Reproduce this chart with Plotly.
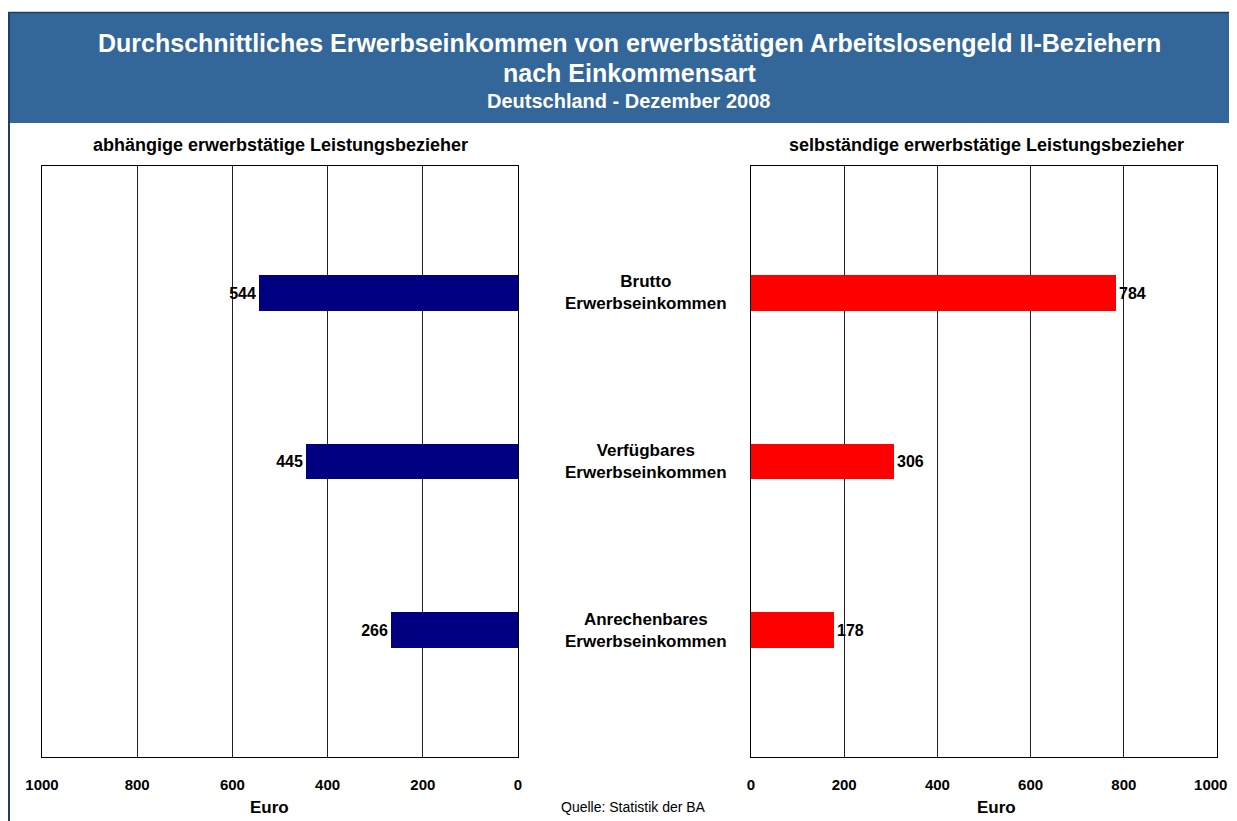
import plotly.graph_objects as go

categories = ["Brutto<br>Erwerbseinkommen", "Verfügbares<br>Erwerbseinkommen", "Anrechenbares<br>Erwerbseinkommen"]
abhaengig = [544, 445, 266]
selbstaendig = [784, 306, 178]
tick_vals = [0, 200, 400, 600, 800, 1000]
ypos = [0, 1, 2]

W, H = 1237, 821
OFF = 8  # page body margin offset
def px(x): return (x - OFF) / W
def py(y): return 1 - (y - OFF) / H

FONT = "Liberation Sans, Arial, sans-serif"

fig = go.Figure()
fig.add_trace(go.Bar(
    x=abhaengig, y=ypos, orientation="h", width=0.213,
    marker=dict(color="#000080", line=dict(width=0)),
    texttemplate="<b>%{x}</b>", textposition="outside",
    textfont=dict(family=FONT, size=16, color="black"),
    xaxis="x", yaxis="y", cliponaxis=False, showlegend=False, hoverinfo="skip"))
fig.add_trace(go.Bar(
    x=selbstaendig, y=ypos, orientation="h", width=0.213,
    marker=dict(color="#FF0000", line=dict(width=0)),
    texttemplate="<b>%{x}</b>", textposition="outside",
    textfont=dict(family=FONT, size=16, color="black"),
    xaxis="x2", yaxis="y2", cliponaxis=False, showlegend=False, hoverinfo="skip"))

axis_common = dict(
    tickvals=tick_vals,
    tickfont=dict(family=FONT, size=15, color="black"),
    showgrid=True, gridcolor="#222222", gridwidth=1,
    showline=True, linecolor="black", linewidth=1, mirror=True,
    ticks="outside", ticklen=14, tickcolor="rgba(0,0,0,0)",
    zeroline=False, fixedrange=True, automargin=False,
)
left_ticktext = [f"<b>{v}</b>" for v in tick_vals]
# last label on the right axis padded so it stays inside the visible page
right_ticktext = [f"<b>{v}</b>" for v in tick_vals[:-1]] + [f"<b>{tick_vals[-1]}</b>&nbsp;&nbsp;&nbsp;"]

yaxis_common = dict(range=[2.75, -0.75], showticklabels=False, showgrid=False,
                    showline=True, linecolor="black", linewidth=1, mirror=True,
                    zeroline=False, ticks="", fixedrange=True, automargin=False)

fig.update_layout(
    width=W, height=H,
    margin=dict(l=0, r=0, t=0, b=0, autoexpand=False),
    paper_bgcolor="white", plot_bgcolor="white",
    font=dict(family=FONT, color="black"),
    xaxis=dict(domain=[px(42), px(518)], range=[1000, 0], anchor="y",
               ticktext=left_ticktext, **axis_common),
    yaxis=dict(domain=[py(757), py(166)], anchor="x", **yaxis_common),
    xaxis2=dict(domain=[px(751), px(1217)], range=[0, 1000], anchor="y2",
                ticktext=right_ticktext, **axis_common),
    yaxis2=dict(domain=[py(757), py(166)], anchor="x2", **yaxis_common),
    bargap=0,
    showlegend=False,
)

# Banner
fig.add_shape(type="rect", xref="paper", yref="paper",
              x0=px(8), x1=1.0, y0=py(123), y1=py(12),
              fillcolor="#336699", line=dict(width=0), layer="below")
fig.add_shape(type="line", xref="paper", yref="paper",
              x0=px(8), x1=1.0, y0=py(12.5), y1=py(12.5),
              line=dict(color="#1F3F66", width=1.5))
fig.add_shape(type="line", xref="paper", yref="paper",
              x0=px(9), x1=px(9), y0=0, y1=py(12),
              line=dict(color="#1F3F66", width=2))

anns = []
def ann(text, x, y, size, color="black", yref="paper"):
    anns.append(dict(text=text, x=x, y=y, xref="paper", yref=yref, showarrow=False,
                     font=dict(family=FONT, size=size, color=color),
                     xanchor="center", yanchor="middle"))

ann("<b>Durchschnittliches Erwerbseinkommen von erwerbstätigen Arbeitslosengeld II-Beziehern</b>",
    px(629.5), py(43), 25, "white")
ann("<b>nach Einkommensart</b>", px(629.5), py(73), 25, "white")
ann("<b>Deutschland - Dezember 2008</b>", px(629), py(101), 20, "white")
ann("<b>abhängige erwerbstätige Leistungsbezieher</b>", px(280), py(145), 18)
ann("<b>selbständige erwerbstätige Leistungsbezieher</b>", px(986), py(145), 18)
for yi, cat in zip(ypos, categories):
    ann(f"<b>{cat}</b>", px(646), yi, 17, yref="y")
ann("<b>Euro</b>", px(269), py(807), 17)
ann("<b>Euro</b>", px(996), py(807), 17)
ann("Quelle: Statistik der BA", px(634), py(807), 14)
fig.update_layout(annotations=anns)

fig.write_html("out.html")
